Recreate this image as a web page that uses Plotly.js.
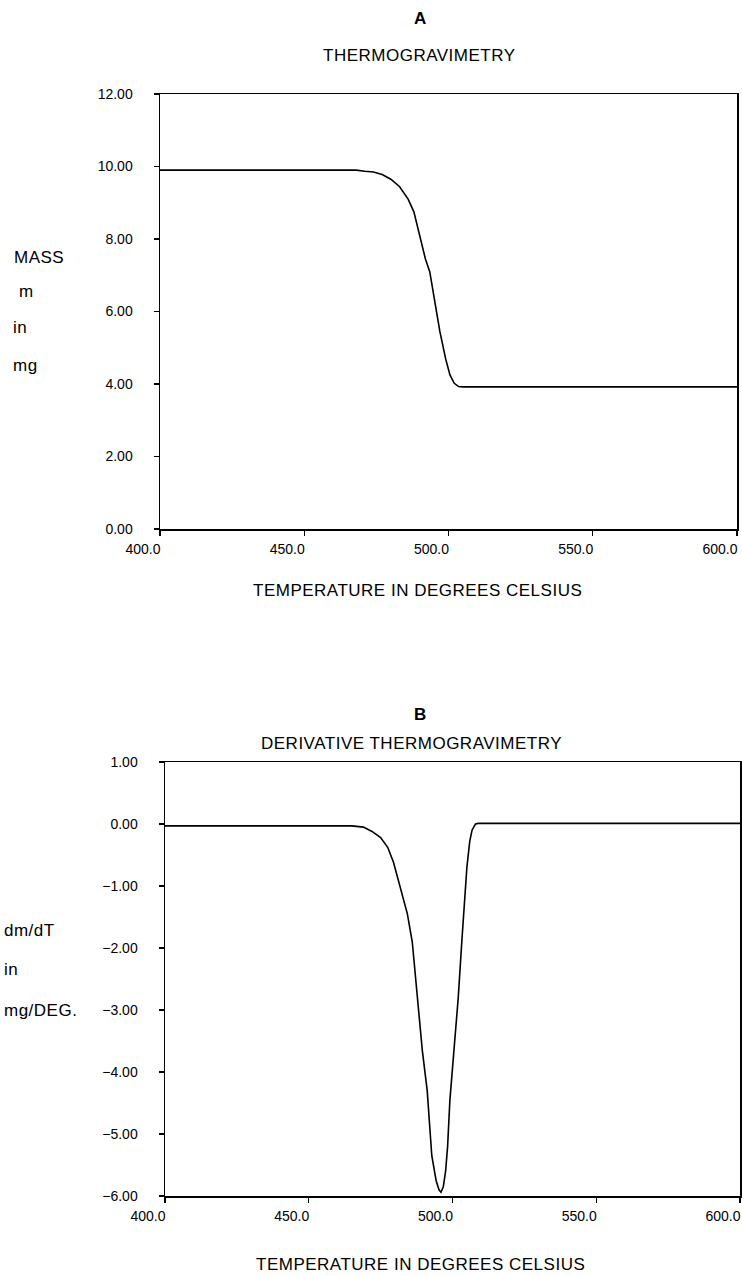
<!DOCTYPE html>
<html>
<head>
<meta charset="utf-8">
<script src="https://cdn.plot.ly/plotly-3.0.1.min.js"></script>
<style>html,body{margin:0;padding:0;background:#fff;}#chart{width:742px;height:1276px;}
.annotation-text{letter-spacing:0.5px;}</style>
</head>
<body>
<div id="chart"></div>
<script>
// Thermogravimetry (panel A)
const tgTemp = [400, 420, 440, 460, 468, 471, 474, 477, 480, 483, 486, 488, 490, 492, 493.5, 495, 497, 499, 500.5, 502, 503.5, 505, 520, 560, 600];
const tgMass = [9.90, 9.90, 9.90, 9.90, 9.90, 9.87, 9.85, 9.78, 9.65, 9.45, 9.10, 8.75, 8.10, 7.45, 7.10, 6.35, 5.45, 4.70, 4.25, 4.02, 3.93, 3.92, 3.92, 3.92, 3.92];

// Derivative thermogravimetry (panel B)
const dtgTemp = [400, 430, 460, 465, 469, 472, 475, 477.5, 479.5, 481, 483, 484.3, 486, 488, 489.5, 491.2, 492.8, 494.3, 495.3, 496, 496.8, 497.6, 498.3, 499.1, 500.5, 502, 503.3, 504.2, 505, 506, 506.8, 508, 509, 520, 560, 600];
const dtgRate = [-0.03, -0.03, -0.03, -0.03, -0.05, -0.12, -0.22, -0.38, -0.62, -0.88, -1.25, -1.45, -1.90, -2.85, -3.65, -4.30, -5.35, -5.75, -5.90, -5.94, -5.85, -5.60, -5.20, -4.45, -3.65, -2.80, -1.85, -1.20, -0.70, -0.28, -0.10, 0.00, 0.01, 0.01, 0.01, 0.01];

const xTicks = [400, 450, 500, 550, 600];
const yTicksA = [0, 2, 4, 6, 8, 10, 12];
const yTicksB = [-6, -5, -4, -3, -2, -1, 0, 1];

const W = 742, H = 1276;
const fy = p => 1 - p / H;
const fx = p => p / W;

const font = {family: 'Liberation Sans, Arial, sans-serif', size: 14, color: '#000'};
const axisCommon = {
  showline: true, linecolor: '#000', linewidth: 1.5, mirror: true,
  ticks: 'outside', ticklen: 5, tickwidth: 1.2, tickcolor: '#000',
  showgrid: false, zeroline: false, tickfont: font, fixedrange: true
};

const traces = [
  {x: tgTemp, y: tgMass, type: 'scatter', mode: 'lines', line: {color: '#000', width: 1.6}, xaxis: 'x', yaxis: 'y', hoverinfo: 'skip'},
  {x: dtgTemp, y: dtgRate, type: 'scatter', mode: 'lines', line: {color: '#000', width: 1.6}, xaxis: 'x2', yaxis: 'y2', hoverinfo: 'skip'}
];

const tfont = {family: 'Liberation Sans, Arial, sans-serif', size: 17, color: '#000'};
function ann(text, x, y, opts) {
  return Object.assign({text: text, x: fx(x), y: fy(y), xref: 'paper', yref: 'paper', showarrow: false, font: tfont, xanchor: 'center', yanchor: 'middle'}, opts || {});
}

const xAx = {range: [400, 600], tickvals: xTicks, tickformat: '.1f', ticklabelshift: -17, ticklabeloverflow: 'allow', ticklabelstandoff: 2};
const layout = {
  width: W, height: H,
  margin: {l: 0, r: 0, t: 0, b: 0},
  paper_bgcolor: '#fff', plot_bgcolor: '#fff',
  showlegend: false,
  xaxis: Object.assign({}, axisCommon, xAx, {domain: [fx(160), fx(737)], anchor: 'y'}),
  yaxis: Object.assign({}, axisCommon, {domain: [fy(529), fy(94)], range: [0, 12], tickvals: yTicksA, tickformat: '.2f', anchor: 'x', ticklabelstandoff: 18}),
  xaxis2: Object.assign({}, axisCommon, xAx, {domain: [fx(165), fx(740)], anchor: 'y2'}),
  yaxis2: Object.assign({}, axisCommon, {domain: [fy(1196), fy(762)], range: [-6, 1], tickvals: yTicksB, tickformat: '.2f', anchor: 'x2', ticklabelstandoff: 18}),
  annotations: [
    ann('<b>A</b>', 421, 18),
    ann('THERMOGRAVIMETRY', 419, 55),
    ann('TEMPERATURE IN DEGREES CELSIUS', 417, 590),
    ann('MASS', 12, 257, {xanchor: 'left'}),
    ann('m', 17, 292, {xanchor: 'left'}),
    ann('in', 11, 327, {xanchor: 'left'}),
    ann('mg', 11, 365, {xanchor: 'left'}),
    ann('<b>B</b>', 421, 714),
    ann('DERIVATIVE THERMOGRAVIMETRY', 411, 743),
    ann('TEMPERATURE IN DEGREES CELSIUS', 421, 1264),
    ann('dm/dT', 2, 930, {xanchor: 'left'}),
    ann('in', 2, 969, {xanchor: 'left'}),
    ann('mg/DEG.', 2, 1010, {xanchor: 'left'})
  ]
};

Plotly.newPlot('chart', traces, layout, {staticPlot: true, displayModeBar: false});
</script>
</body>
</html>
